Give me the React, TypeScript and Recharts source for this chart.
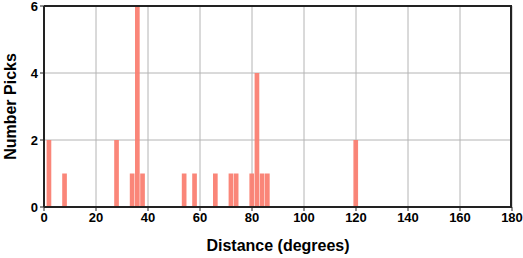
import React from "react";
import { BarChart, Bar, XAxis, YAxis, CartesianGrid } from "recharts";

const distances = [2, 8, 28, 34, 36, 38, 54, 58, 66, 72, 74, 80, 82, 84, 86, 120];
const picks = [2, 1, 2, 1, 6, 1, 1, 1, 1, 1, 1, 1, 4, 1, 1, 2];
const xTicks = [0, 20, 40, 60, 80, 100, 120, 140, 160, 180];
const yTicks = [0, 2, 4, 6];

const data = distances.map((d, i) => ({ distance: d, picks: picks[i] }));

const font = "'Liberation Sans', Arial, Helvetica, sans-serif";
const tickStyle = { fontFamily: font, fontSize: 13, fontWeight: 700, fill: "#000" };
const axisLine = { stroke: "#222", strokeWidth: 2 };

const W = 523;
const H = 258;
const M = { top: 6, right: 11, bottom: 0, left: 0 };
const Y_AXIS_W = 44;
const X_AXIS_H = 51;

export default function App() {
  return (
    <div style={{ position: "absolute", left: 0, top: 0, width: W, height: H, background: "#fff" }}>
      <BarChart width={W} height={H} data={data} margin={M} barGap={0}>
        <CartesianGrid xAxisId="b" yAxisId="l" stroke="#b4b4b4" strokeWidth={1} />
        <XAxis
          xAxisId="b"
          dataKey="distance"
          type="number"
          domain={[0, 180]}
          ticks={xTicks}
          interval={0}
          height={X_AXIS_H}
          tick={tickStyle}
          tickSize={4}
          tickLine={{ stroke: "#222" }}
          axisLine={axisLine}
          label={{ value: "Distance (degrees)", position: "insideBottom", offset: 7, style: { fontFamily: font, fontSize: 16, fontWeight: 700, fill: "#000" } }}
        />
        <YAxis
          yAxisId="l"
          type="number"
          domain={[0, 6]}
          ticks={yTicks}
          interval={0}
          width={Y_AXIS_W}
          tick={tickStyle}
          tickSize={4}
          tickLine={{ stroke: "#222" }}
          axisLine={axisLine}
          label={{ value: "Number Picks", angle: -90, position: "insideLeft", offset: 0, dx: 10, style: { fontFamily: font, fontSize: 16, fontWeight: 700, fill: "#000", textAnchor: "middle" } }}
        />
        <Bar
          xAxisId="b"
          yAxisId="l"
          dataKey="picks"
          fill="#fa8072"
          fillOpacity={0.95}
          barSize={5.2}
          isAnimationActive={false}
        />
      </BarChart>
      <div
        style={{
          position: "absolute",
          left: M.left + Y_AXIS_W,
          top: M.top - 1,
          width: W - M.left - M.right - Y_AXIS_W,
          height: H - M.top - M.bottom - X_AXIS_H,
          borderTop: "2px solid #222",
          borderRight: "2px solid #222",
          boxSizing: "border-box",
          pointerEvents: "none",
        }}
      />
    </div>
  );
}
